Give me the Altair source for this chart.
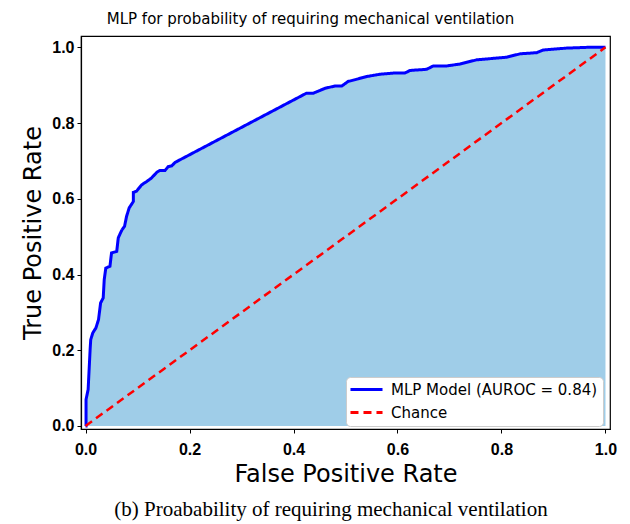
import altair as alt
import pandas as pd

fpr = [0.0, 0.001, 0.001, 0.005, 0.009, 0.010, 0.014, 0.020, 0.025, 0.029, 0.034, 0.036,
       0.039, 0.047, 0.050, 0.060, 0.063, 0.070, 0.075, 0.079, 0.084, 0.092, 0.092, 0.098,
       0.108, 0.118, 0.127, 0.137, 0.143, 0.153, 0.159, 0.166, 0.172, 0.425, 0.438, 0.461,
       0.480, 0.493, 0.505, 0.522, 0.541, 0.566, 0.592, 0.614, 0.624, 0.656, 0.669, 0.695,
       0.720, 0.752, 0.810, 0.836, 0.868, 0.880, 0.925, 0.964, 1.0]
tpr = [0.0, 0.0, 0.070, 0.096, 0.206, 0.228, 0.246, 0.259, 0.281, 0.325, 0.338, 0.387,
       0.417, 0.422, 0.457, 0.461, 0.497, 0.518, 0.527, 0.554, 0.576, 0.593, 0.617, 0.620,
       0.637, 0.646, 0.655, 0.670, 0.675, 0.675, 0.685, 0.687, 0.696, 0.879, 0.879, 0.892,
       0.898, 0.898, 0.910, 0.916, 0.923, 0.929, 0.932, 0.932, 0.939, 0.942, 0.951, 0.951,
       0.956, 0.967, 0.974, 0.983, 0.986, 0.993, 0.998, 1.0, 1.0]
chance_x = [0.0, 1.0]
chance_y = [0.0, 1.0]
series_names = ["MLP Model (AUROC = 0.84)", "Chance"]
title_text = "MLP for probability of requiring mechanical ventilation"
caption_text = "(b) Proabability of requiring mechanical ventilation"

roc = pd.DataFrame({"fpr": fpr, "tpr": tpr, "i": list(range(len(fpr))),
                    "series": series_names[0]})
chance = pd.DataFrame({"fpr": chance_x, "tpr": chance_y, "i": [0, 1],
                       "series": series_names[1]})

W, H = 529, 393
xs = alt.Scale(domain=[-0.0087, 1.0087], nice=False, zero=False)
ys = alt.Scale(domain=[-0.008, 1.03], nice=False, zero=False)
ticks = [0.0, 0.2, 0.4, 0.6, 0.8, 1.0]

x_enc = alt.X("fpr:Q", scale=xs, title="False Positive Rate",
              axis=alt.Axis(values=ticks, format=".1f"))
y_enc = alt.Y("tpr:Q", scale=ys, title="True Positive Rate",
              axis=alt.Axis(values=ticks, format=".1f"))

color = alt.Color("series:N", title=None,
                  scale=alt.Scale(domain=series_names, range=["#0000ff", "#ff0000"]),
                  legend=alt.Legend(orient="none", legendX=265, legendY=341))
dash = alt.StrokeDash("series:N", title=None,
                      scale=alt.Scale(domain=series_names, range=[[1, 0], [8, 5]]))

area = alt.Chart(roc).mark_area(color="#9fcde8", opacity=1).encode(
    x=x_enc, y=y_enc, y2=alt.datum(0))

curve = alt.Chart(roc).mark_line(strokeWidth=3).encode(
    x=x_enc, y=y_enc, order="i:Q", color=color, strokeDash=dash)

chance_line = alt.Chart(chance).mark_line(strokeWidth=2.5).encode(
    x=x_enc, y=y_enc, order="i:Q", color=color, strokeDash=dash)

caption = alt.Chart(pd.DataFrame({"t": [caption_text]})).mark_text(
    font="Liberation Serif", fontSize=21, color="black", align="center", baseline="middle"
).encode(text="t:N", x=alt.value(250), y=alt.value(474))

chart = alt.layer(area, curve, chance_line, caption).properties(
    width=W, height=H,
    title=alt.TitleParams(title_text, font="DejaVu Sans", fontSize=15, fontWeight="normal",
                          color="black", anchor="middle", offset=9, dx=-35),
    autosize=alt.AutoSizeParams(type="none"),
    padding={"left": 73, "top": 28, "right": 12, "bottom": 92},
).configure_view(stroke="black", strokeWidth=1.2).configure_axis(
    grid=False, domainColor="black", domainWidth=1.2, tickColor="black", tickSize=4,
    tickWidth=1, labelFont="Liberation Sans", labelFontWeight="bold", labelFontSize=16,
    labelColor="black", titleFont="DejaVu Sans", titleFontSize=24, titleFontWeight="normal",
    titleColor="black"
).configure_axisX(labelPadding=8, titlePadding=5).configure_axisY(
    labelPadding=3, titlePadding=6
).configure_legend(
    fillColor="white", strokeColor="#cccccc", cornerRadius=4, padding=5,
    labelFont="DejaVu Sans", labelFontSize=15, labelColor="black", labelLimit=400,
    symbolType="M-3,0H3", symbolSize=114, symbolStrokeWidth=3, symbolOffset=8,
    labelOffset=17, rowPadding=7
)

chart.save("out.html", embed_options={"renderer": "svg", "actions": False})
